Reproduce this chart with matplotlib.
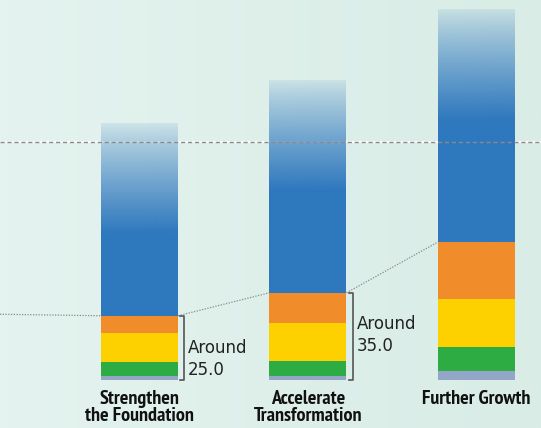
import numpy as np
import matplotlib
matplotlib.use("Agg")
import matplotlib.pyplot as plt
from matplotlib.colors import to_rgba

# data
categories = ["Strengthen\nthe Foundation", "Accelerate\nTransformation", "Further Growth"]
seg_lavender = [1.6, 1.6, 3.7]
seg_green = [5.7, 6.1, 9.6]
seg_yellow = [11.6, 15.2, 19.1]
seg_orange = [6.8, 12.0, 22.8]
seg_blue = [77.1, 85.0, 92.8]
bracket_labels = ["Around\n25.0", "Around\n35.0"]
dashed_level = 95
start_level = 26.3

seg_colors = ["#93a6c8", "#2eac44", "#fdd000", "#f08c2a"]
blue = "#2e78be"

fig = plt.figure(figsize=(5.41, 4.28), dpi=100)
ax = fig.add_axes([0, 0, 1, 1])
ax.set_axis_off()

x = np.arange(len(categories))
w = 0.457
xmin, xmax = -0.828, 2.383
ymin, ymax = -19.2, 152

# background gradient
bg = np.zeros((2, 256, 4))
c1, c2 = np.array(to_rgba("#e4f3ef")), np.array(to_rgba("#d9ece6"))
for i, t in enumerate(np.linspace(0, 1, 256)):
    bg[:, i] = c1 * (1 - t) + c2 * t
ax.imshow(bg, extent=[xmin, xmax, ymin, ymax], aspect="auto", zorder=0)

# stacked segments
bottoms = np.zeros(len(categories))
for vals, col in zip([seg_lavender, seg_green, seg_yellow, seg_orange], seg_colors):
    ax.bar(x, vals, width=w, bottom=bottoms, color=col, linewidth=0, zorder=2)
    bottoms = bottoms + np.array(vals)
totals = bottoms.copy()

# blue part with fading top
fade = 44.0
rgb = np.array(to_rgba(blue))[:3]
for xi, b, h in zip(x, totals, seg_blue):
    n = 300
    yy = np.linspace(b, b + h, n)
    dist = (b + h) - yy
    alpha = np.clip(0.1 + 0.9 * (dist / fade) ** 0.85, 0, 1)
    img = np.zeros((n, 1, 4))
    img[:, 0, :3] = rgb
    img[:, 0, 3] = alpha
    ax.imshow(img, extent=[xi - w / 2, xi + w / 2, b, b + h], origin="lower",
              aspect="auto", zorder=2, interpolation="bilinear")

# dashed reference line
ax.plot([xmin, xmax], [dashed_level, dashed_level], color="white", lw=1.2, zorder=1)
ax.plot([xmin, xmax], [dashed_level, dashed_level], color="#8a8a8a", lw=1,
        dashes=(3, 2), zorder=3)

# dotted connectors
ax.plot([xmin, x[0] - w / 2], [start_level, totals[0]], color="#8a8a8a", lw=0.9,
        dashes=(1, 1.2), zorder=3)
for i in range(len(x) - 1):
    ax.plot([x[i] + w / 2, x[i + 1] - w / 2], [totals[i], totals[i + 1]],
            color="#8a8a8a", lw=0.9, dashes=(1, 1.2), zorder=3)

# brackets
label_y = [8.4, 18.0]
for i, lab in enumerate(bracket_labels):
    bx = x[i] + w / 2 + 0.036
    tk = 0.024
    ax.plot([bx - tk, bx, bx, bx - tk], [totals[i], totals[i], 0, 0],
            color="#555555", lw=1.2, zorder=3)
    ax.text(bx + 0.024, label_y[i], lab, fontsize=12, color="#222222",
            va="center", ha="left", linespacing=1.35, family="DejaVu Sans")

# category labels
for xi, cat in zip(x, categories):
    ax.text(xi, -4.2, cat, ha="center", va="top", fontsize=14.5, fontweight="bold",
            family=["PT Sans Narrow", "DejaVu Sans"], linespacing=0.92,
            color="#111111")

ax.set_xlim(xmin, xmax)
ax.set_ylim(ymin, ymax)
fig.savefig("out.png", dpi=100)
